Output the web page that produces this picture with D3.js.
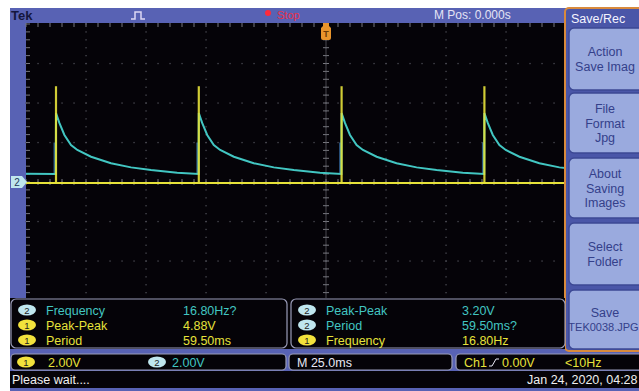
<!DOCTYPE html>
<html>
<head>
<meta charset="utf-8">
<script src="https://cdn.jsdelivr.net/npm/d3@7"></script>
<style>
  body { margin: 0; background: #fff; }
  svg { display: block; font-family: "Liberation Sans", Arial, sans-serif; }
</style>
</head>
<body>
<svg id="scope"></svg>
<script>
// channel 2 (cyan) trace: time in ms, level in volts
const ch2Times = [-125, -112.6,
  -112.5, -111.1, -109.0, -106.25, -103.6, -97.9, -89.6, -81.25, -72.9, -62.0, -53.1,
  -53.0, -51.6, -49.5, -46.75, -44.1, -38.4, -30.1, -21.75, -13.4, -2.5, 6.4,
  6.5, 7.9, 10.0, 12.75, 15.4, 21.1, 29.4, 37.75, 46.1, 57.0, 65.9,
  66.0, 67.4, 69.5, 72.25, 74.9, 80.6, 88.9, 97.25, 105.6];
const ch2Volts = [0.42, 0.41,
  3.49, 2.99, 2.38, 1.87, 1.62, 1.28, 0.95, 0.74, 0.61, 0.47, 0.41,
  3.49, 2.99, 2.38, 1.87, 1.62, 1.28, 0.95, 0.74, 0.61, 0.47, 0.41,
  3.49, 2.99, 2.38, 1.87, 1.62, 1.28, 0.95, 0.74, 0.61, 0.47, 0.41,
  3.49, 2.99, 2.38, 1.87, 1.62, 1.28, 0.95, 0.74, 0.61];

// channel 1 (yellow) pulses
const ch1SpikeTimes = [-112.5, -53.0, 6.5, 66.0];
const ch1Base = -0.05;
const ch1Peak = 4.85;

const measLeftCh = [2, 1, 1];
const measLeftNames = ["Frequency", "Peak-Peak", "Period"];
const measLeftValues = ["16.80Hz?", "4.88V", "59.50ms"];
const measRightCh = [2, 2, 1];
const measRightNames = ["Peak-Peak", "Period", "Frequency"];
const measRightValues = ["3.20V", "59.50ms?", "16.80Hz"];

const menuTitle = "Save/Rec";
const menuButtons = [["Action", "Save Imag"], ["File", "Format", "Jpg"], ["About", "Saving", "Images"], ["Select", "Folder"], ["Save", "TEK0038.JPG"]];

const W = 639, H = 391;
const svg = d3.select("#scope").attr("width", W).attr("height", H);

const BLUE = "#5862b4", YEL = "#e6e23a", CYAN = "#42c6c2", GRID = "#4c4c54";
const chColor = c => c === 1 ? YEL : CYAN;
const badgeFill = c => c === 1 ? "#f2e23c" : "#bfe6ee";

// screen geometry: 25 ms/div, 2 V/div
const x = d3.scaleLinear().domain([-125, 125]).range([26, 626]);
const y = d3.scaleLinear().domain([-8, 8]).range([340, 24]);
const sx0 = 26, sx1 = 565, sy0 = 23, sy1 = 298;

// frame
svg.append("rect").attr("x", 10).attr("y", 8).attr("width", W - 10).attr("height", H - 8).attr("fill", BLUE);
svg.append("rect").attr("x", sx0).attr("y", sy0).attr("width", sx1 - sx0).attr("height", sy1 - sy0).attr("fill", "#050308");

// graticule
const grid = svg.append("g");
const minorX = d3.range(-125, 125.01, 5);
const minorY = d3.range(-8, 8.01, 0.4);
d3.range(-100, 101, 25).forEach(t => {
  minorY.forEach(v => grid.append("rect").attr("x", x(t) - 0.6).attr("y", y(v) - 0.6)
    .attr("width", 1.3).attr("height", 1.3).attr("fill", GRID));
});
d3.range(-6, 7, 2).forEach(v => {
  minorX.forEach(t => grid.append("rect").attr("x", x(t) - 0.6).attr("y", y(v) - 0.6)
    .attr("width", 1.3).attr("height", 1.3).attr("fill", GRID));
});
// centre cross ticks
minorY.forEach(v => grid.append("line").attr("x1", x(0) - 3).attr("x2", x(0) + 3)
  .attr("y1", y(v)).attr("y2", y(v)).attr("stroke", "#77777e").attr("stroke-width", 1));
grid.append("line").attr("x1", x(0)).attr("x2", x(0)).attr("y1", sy0).attr("y2", sy1)
  .attr("stroke", "#5a5a62").attr("stroke-width", 0.8);
minorX.forEach(t => grid.append("line").attr("x1", x(t)).attr("x2", x(t))
  .attr("y1", y(0) - 3).attr("y2", y(0) + 3).attr("stroke", "#77777e").attr("stroke-width", 1));
// edge ticks
minorX.forEach(t => grid.append("line").attr("x1", x(t)).attr("x2", x(t))
  .attr("y1", sy0).attr("y2", sy0 + 4).attr("stroke", "#77777e").attr("stroke-width", 1));
minorY.forEach(v => grid.append("line").attr("x1", sx0).attr("x2", sx0 + 4)
  .attr("y1", y(v)).attr("y2", y(v)).attr("stroke", "#77777e").attr("stroke-width", 1));

// traces, clipped to the screen
svg.append("clipPath").attr("id", "screen").append("rect")
  .attr("x", sx0).attr("y", sy0).attr("width", sx1 - sx0).attr("height", sy1 - sy0);
const traces = svg.append("g").attr("clip-path", "url(#screen)");

const ch2 = ch2Times.map((t, i) => [t, ch2Volts[i]]);
const line = d3.line().x(d => x(d[0])).y(d => y(d[1]));

traces.append("line").attr("x1", sx0).attr("x2", sx1).attr("y1", y(ch1Base)).attr("y2", y(ch1Base))
  .attr("stroke", YEL).attr("stroke-width", 2);

ch1SpikeTimes.forEach(t => {
  traces.append("line").attr("x1", x(t) - 1.5).attr("x2", x(t) - 1.5)
    .attr("y1", y(0.4)).attr("y2", y(2.0)).attr("stroke", "#3a78b8").attr("stroke-width", 2)
    .attr("opacity", 0.7);
});

traces.append("path").datum(ch2).attr("d", line).attr("fill", "none")
  .attr("stroke", CYAN).attr("stroke-width", 2);

ch1SpikeTimes.forEach(t => {
  traces.append("line").attr("x1", x(t)).attr("x2", x(t))
    .attr("y1", y(ch1Base)).attr("y2", y(ch1Peak)).attr("stroke", YEL).attr("stroke-width", 2.2)
    .attr("opacity", 0.9);
});

// trigger position marker
const tm = svg.append("g").attr("transform", `translate(${x(0)},${sy0})`);
tm.append("path").attr("d", "M-3,0 L3,0 L3,3 L5,5 L5,15 Q5,17 3,17 L-3,17 Q-5,17 -5,15 L-5,5 L-3,3 Z")
  .attr("fill", "#e8942c");
tm.append("text").attr("x", 0).attr("y", 14).attr("text-anchor", "middle")
  .attr("font-size", 9).attr("font-weight", "bold").attr("fill", "#6a3a08").text("T");

// ground marker for channel 2
svg.append("path").attr("d", `M11,${y(0) - 6} L22,${y(0) - 6} L27,${y(0)} L22,${y(0) + 6} L11,${y(0) + 6} Z`)
  .attr("fill", "#bfe6ee");
svg.append("text").attr("x", 17).attr("y", y(0) + 4).attr("text-anchor", "middle")
  .attr("font-size", 10).attr("fill", "#1d3a5a").text("2");

// top status bar
svg.append("text").attr("x", 11).attr("y", 20).attr("font-size", 13).attr("font-weight", "bold")
  .attr("fill", "#14163e").text("Tek");
svg.append("path").attr("d", "M131,19 L135,19 L135,12 L141,12 L141,19 L145,19")
  .attr("fill", "none").attr("stroke", "#dcd8f4").attr("stroke-width", 1.5);
svg.append("circle").attr("cx", 268).attr("cy", 13).attr("r", 3).attr("fill", "#ff2a3a");
svg.append("text").attr("x", 277).attr("y", 19).attr("font-size", 11).attr("fill", "#e8304a").text("Stop");
svg.append("text").attr("x", 434).attr("y", 19).attr("font-size", 12).attr("fill", "#e4e4f4").text("M Pos: 0.000s");

// menu on the right
const menu = svg.append("g");
menu.append("rect").attr("x", 565).attr("y", 8).attr("width", 80).attr("height", 343)
  .attr("rx", 4).attr("fill", "#4a56a8").attr("stroke", "#d98a3c").attr("stroke-width", 2);
menu.append("text").attr("x", 571).attr("y", 23).attr("font-size", 12.5).attr("fill", "#f4f4ff").text(menuTitle);
const btnTops = [28, 93, 158, 223, 290];
const btnBottoms = [90, 153, 218, 285, 349];
menuButtons.forEach((lines, i) => {
  menu.append("rect").attr("x", 569).attr("y", btnTops[i]).attr("width", 76)
    .attr("height", btnBottoms[i] - btnTops[i]).attr("rx", 5)
    .attr("fill", "#9aaade").attr("stroke", "#3c4894").attr("stroke-width", 1.5);
  const mid = (btnTops[i] + btnBottoms[i]) / 2;
  const step = 14.5;
  lines.forEach((s, j) => {
    const long = s.length > 9;
    menu.append("text").attr("x", long ? 603.5 : 605)
      .attr("y", mid + (j - (lines.length - 1) / 2) * step + 4.5)
      .attr("text-anchor", "middle").attr("font-size", long ? 11 : 12.5)
      .attr("fill", "#34408a").text(s);
  });
});

// measurement boxes
function measBox(x0, x1, chs, names, values, valueX) {
  const g = svg.append("g");
  g.append("rect").attr("x", x0).attr("y", 299).attr("width", x1 - x0).attr("height", 49).attr("rx", 5)
    .attr("fill", "#050308").attr("stroke", "#9a9cb8").attr("stroke-width", 1.2);
  names.forEach((n, i) => {
    const cy = 310 + i * 15;
    g.append("ellipse").attr("cx", x0 + 16).attr("cy", cy).attr("rx", 9).attr("ry", 5.5)
      .attr("fill", badgeFill(chs[i]));
    g.append("text").attr("x", x0 + 16).attr("y", cy + 3.5).attr("text-anchor", "middle")
      .attr("font-size", 9.5).attr("fill", "#222").text(chs[i]);
    g.append("text").attr("x", x0 + 35).attr("y", cy + 4.5).attr("font-size", 12.5)
      .attr("fill", chColor(chs[i])).text(n);
    g.append("text").attr("x", valueX).attr("y", cy + 4.5).attr("font-size", 12.5)
      .attr("fill", chColor(chs[i])).text(values[i]);
  });
}
svg.append("rect").attr("x", 10).attr("y", 298).attr("width", 555).attr("height", 51).attr("fill", "#050308");
measBox(11, 287, measLeftCh, measLeftNames, measLeftValues, 183);
measBox(291, 565, measRightCh, measRightNames, measRightValues, 462);

// settings row
function box(x0, x1) {
  svg.append("rect").attr("x", x0).attr("y", 354).attr("width", x1 - x0).attr("height", 16).attr("rx", 4)
    .attr("fill", "#050308").attr("stroke", "#9a9cb8").attr("stroke-width", 1.2);
}
box(11, 286); box(289, 452); box(456, 645);
[[26, 1, 48], [157, 2, 172]].forEach(([bx, ch, tx]) => {
  svg.append("ellipse").attr("cx", bx).attr("cy", 362).attr("rx", 9).attr("ry", 5.5).attr("fill", badgeFill(ch));
  svg.append("text").attr("x", bx).attr("y", 365.5).attr("text-anchor", "middle").attr("font-size", 9.5)
    .attr("fill", "#222").text(ch);
  svg.append("text").attr("x", tx).attr("y", 366.5).attr("font-size", 12.5).attr("fill", chColor(ch)).text("2.00V");
});
svg.append("text").attr("x", 297).attr("y", 366.5).attr("font-size", 12.5).attr("fill", "#e8e8f4").text("M 25.0ms");
svg.append("text").attr("x", 464).attr("y", 367).attr("font-size", 12.5).attr("fill", YEL).text("Ch1");
svg.append("path").attr("d", "M489,366 L492,366 L496,359 L499,359").attr("fill", "none")
  .attr("stroke", "#e8e8f4").attr("stroke-width", 1);
svg.append("text").attr("x", 502).attr("y", 367).attr("font-size", 12.5).attr("fill", YEL).text("0.00V");
svg.append("text").attr("x", 565).attr("y", 367).attr("font-size", 12.5).attr("fill", YEL).text("<10Hz");

// status line
svg.append("rect").attr("x", 10).attr("y", 371).attr("width", W - 10).attr("height", 17).attr("fill", "#050308");
svg.append("text").attr("x", 12).attr("y", 384).attr("font-size", 12.5).attr("fill", "#f0f0f0").text("Please wait....");
svg.append("text").attr("x", 527).attr("y", 384).attr("font-size", 12.5).attr("fill", "#f0f0f0").text("Jan 24, 2020, 04:28");
</script>
</body>
</html>
